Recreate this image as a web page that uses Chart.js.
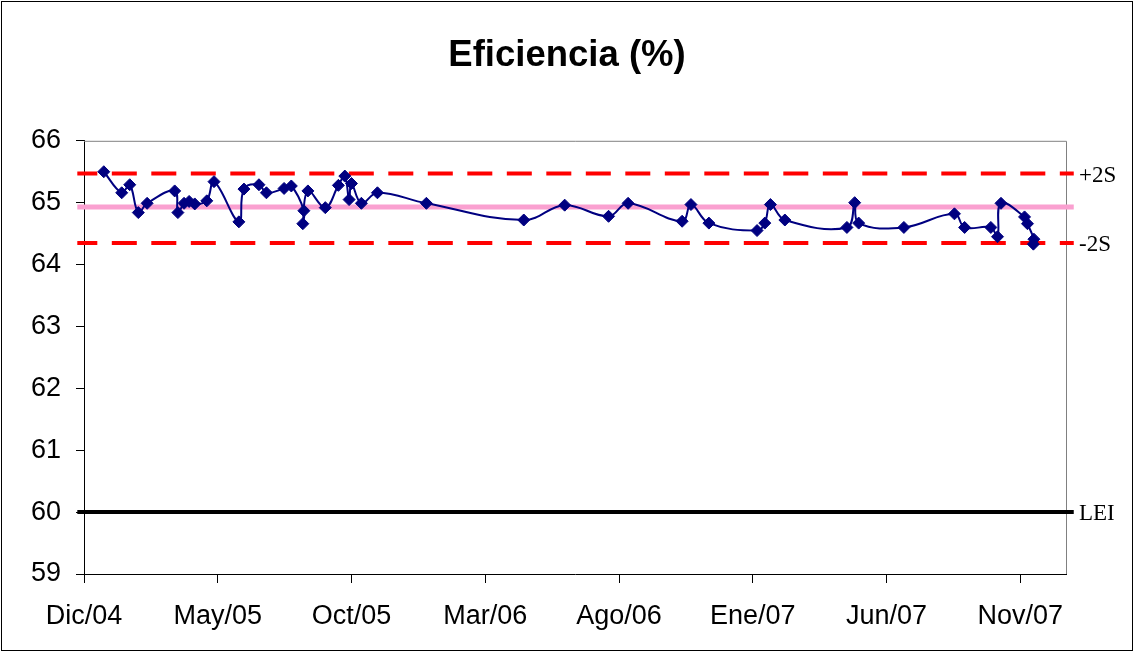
<!DOCTYPE html>
<html>
<head>
<meta charset="utf-8">
<title>Eficiencia (%)</title>
<script src="https://cdn.jsdelivr.net/npm/chart.js@4/dist/chart.umd.min.js"></script>
<style>
  html, body { margin: 0; padding: 0; background: #ffffff; }
  canvas { display: block; }
</style>
</head>
<body>
<canvas id="chart" width="1134" height="652"></canvas>
<script>
// Sampling dates expressed as months elapsed since December 2004 (0 = Dic/04)
const months = [
  0.74, 1.41, 1.71, 2.03, 2.36, 3.39, 3.51, 3.74, 3.93, 4.14,
  4.59, 4.86, 5.79, 5.98, 6.54, 6.82, 7.48, 7.75, 8.22, 8.18,
  8.37, 9.02, 9.51, 9.75, 9.91, 10.00, 10.37, 10.97, 12.80, 16.44,
  17.97, 19.61, 20.34, 22.36, 22.69, 23.36, 25.16, 25.45, 25.66, 26.20,
  28.52, 28.81, 28.96, 30.65, 32.54, 32.92, 33.90, 34.15, 34.28, 35.16,
  35.27, 35.51, 35.49
];

// Efficiency measured at each date (%)
const efficiency = [
  65.50, 65.16, 65.29, 64.84, 64.99, 65.19, 64.84, 64.99, 65.02, 64.98,
  65.03, 65.34, 64.69, 65.22, 65.29, 65.16, 65.23, 65.27, 64.87, 64.66,
  65.19, 64.92, 65.28, 65.43, 65.05, 65.31, 64.99, 65.16, 64.99, 64.72,
  64.96, 64.78, 64.99, 64.70, 64.97, 64.67, 64.55, 64.67, 64.97, 64.72,
  64.60, 65.00, 64.67, 64.60, 64.82, 64.60, 64.60, 64.45, 64.99, 64.77,
  64.66, 64.41, 64.33
];

// Axis ticks
const tickMonths = [0, 5, 10, 15, 20, 25, 30, 35];
const tickLabels = ['Dic/04', 'May/05', 'Oct/05', 'Mar/06', 'Ago/06', 'Ene/07', 'Jun/07', 'Nov/07'];
const yTicks = [59, 60, 61, 62, 63, 64, 65, 66];

// Control limits
const meanValue = 64.93;
const limitNames = ['+2S', '-2S', 'LEI'];
const limitValues = [65.47, 64.35, 60];

// Horizontal extent of the reference lines (months)
const refSpan = [-0.25, 37.0];

const FONT_SANS = '"Liberation Sans", Arial, sans-serif';
const FONT_SERIF = '"Liberation Serif", "Times New Roman", serif';

function hLine(value) {
  return refSpan.map(x => ({ x: x, y: value }));
}

// Grey frame on top/right of the plot, right-hand limit labels, outer border
const decorations = {
  id: 'decorations',
  beforeDatasetsDraw(chart) {
    const { ctx, chartArea: a } = chart;
    ctx.save();
    ctx.strokeStyle = '#808080';
    ctx.lineWidth = 1;
    ctx.beginPath();
    ctx.moveTo(a.left, a.top + 0.5);
    ctx.lineTo(a.right + 0.5, a.top + 0.5);
    ctx.lineTo(a.right + 0.5, a.bottom);
    ctx.stroke();
    ctx.restore();
  },
  afterDraw(chart) {
    const { ctx, chartArea: a, scales } = chart;
    ctx.save();
    ctx.fillStyle = '#000000';
    ctx.font = '23px ' + FONT_SERIF;
    ctx.textAlign = 'left';
    ctx.textBaseline = 'middle';
    limitNames.forEach((name, i) => {
      const y = scales.y.getPixelForValue(limitValues[i]);
      ctx.fillText(name, a.right + 13, y + 2);
    });
    ctx.strokeStyle = '#000000';
    ctx.lineWidth = 1;
    ctx.strokeRect(1.5, 1.5, chart.width - 3, chart.height - 3);
    ctx.restore();
  }
};

const dashed = { borderColor: '#ff0000', borderWidth: 4, borderDash: [25, 14.5], borderDashOffset: 5 };

new Chart(document.getElementById('chart'), {
  type: 'line',
  data: {
    datasets: [
      {
        label: 'Eficiencia',
        data: months.map((m, i) => ({ x: m, y: efficiency[i] })),
        borderColor: '#000080',
        backgroundColor: '#000080',
        borderWidth: 2,
        tension: 0.4,
        pointStyle: 'rectRot',
        pointRadius: 6,
        pointBorderWidth: 1,
        pointBorderColor: '#000080',
        pointBackgroundColor: '#000080',
        order: 0
      },
      Object.assign({ label: '+2S', data: hLine(limitValues[0]), pointRadius: 0, clip: false, order: 1 }, dashed),
      Object.assign({ label: '-2S', data: hLine(limitValues[1]), pointRadius: 0, clip: false, order: 1 }, dashed),
      {
        label: 'Media',
        data: hLine(meanValue),
        borderColor: 'rgba(250,160,208,1)',
        borderWidth: 5,
        pointRadius: 0,
        clip: false,
        order: 2
      },
      {
        label: 'LEI',
        data: hLine(limitValues[2]),
        borderColor: '#000000',
        borderWidth: 4,
        pointRadius: 0,
        clip: false,
        order: 1
      }
    ]
  },
  options: {
    responsive: false,
    animation: false,
    events: [],
    layout: { padding: 0 },
    plugins: {
      legend: { display: false },
      tooltip: { enabled: false },
      title: {
        display: true,
        text: 'Eficiencia (%)',
        color: '#000000',
        font: { family: FONT_SANS, size: 36.5, weight: 'bold' },
        padding: { top: 34, bottom: 63 }
      }
    },
    scales: {
      x: {
        type: 'linear',
        min: 0,
        max: 36.71,
        afterBuildTicks(scale) { scale.ticks = tickMonths.map(v => ({ value: v })); },
        afterFit(scale) { scale.height = 78; },
        ticks: {
          callback(value) {
            const i = tickMonths.indexOf(value);
            return i >= 0 ? tickLabels[i] : '';
          },
          color: '#000000',
          font: { family: FONT_SANS, size: 27 },
          padding: 17,
          maxRotation: 0,
          autoSkip: false
        },
        grid: { drawOnChartArea: false, drawTicks: true, tickLength: 9, color: '#000000', lineWidth: 1 },
        border: { display: true, color: '#000000', width: 1 }
      },
      y: {
        type: 'linear',
        min: 59,
        max: 66,
        afterBuildTicks(scale) { scale.ticks = yTicks.map(v => ({ value: v })); },
        afterFit(scale) { scale.width = 84; },
        ticks: {
          color: '#000000',
          font: { family: FONT_SANS, size: 27 },
          padding: 15
        },
        grid: { drawOnChartArea: false, drawTicks: true, tickLength: 8, color: '#000000', lineWidth: 1 },
        border: { display: true, color: '#000000', width: 1 }
      },
      // Empty right-hand band that holds the limit labels
      yRight: {
        type: 'linear',
        position: 'right',
        min: 59,
        max: 66,
        afterFit(scale) { scale.width = 68; },
        ticks: { display: false },
        grid: { display: false, drawTicks: false },
        border: { display: false }
      }
    }
  },
  plugins: [decorations]
});
</script>
</body>
</html>
